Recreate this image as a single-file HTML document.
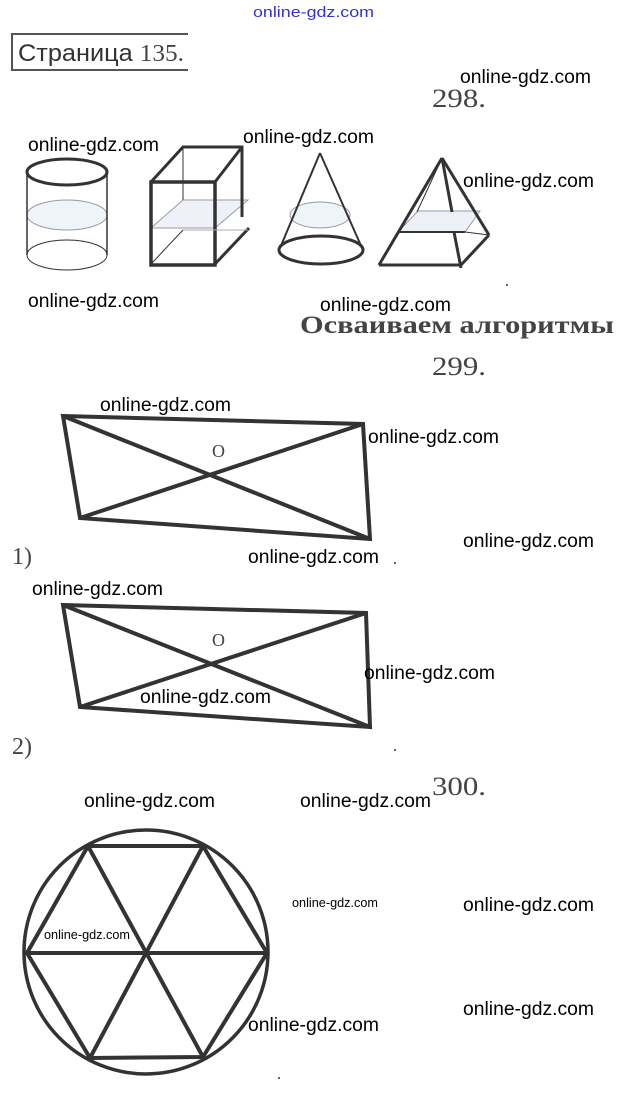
<!DOCTYPE html>
<html><head><meta charset="utf-8"><style>
html,body{margin:0;padding:0;background:#fff;}
svg{display:block;}
.w{font-family:"Liberation Sans",sans-serif;font-size:19px;fill:#000;}
.ws{font-family:"Liberation Sans",sans-serif;font-size:13px;fill:#000;}
.s{font-family:"Liberation Serif",serif;fill:#444;}
</style></head><body>
<svg width="624" height="1094" viewBox="0 0 624 1094" xmlns="http://www.w3.org/2000/svg">
<text x="253" y="17" font-family="Liberation Sans,sans-serif" font-size="15" fill="#3333cc" textLength="121" lengthAdjust="spacingAndGlyphs">online-gdz.com</text>
<path d="M188,34 H12 V70 H188" fill="none" stroke="#555" stroke-width="2"/>
<text x="18" y="61" font-family="Liberation Sans,sans-serif" font-size="24" fill="#333" textLength="166" lengthAdjust="spacingAndGlyphs">Страница <tspan font-family="Liberation Serif,serif" fill="#444">135.</tspan></text>
<text class="s" x="432" y="107" font-size="26" textLength="54" lengthAdjust="spacingAndGlyphs">298.</text>
<text class="s" x="300" y="333" font-size="25" font-weight="bold" textLength="314" lengthAdjust="spacingAndGlyphs">Осваиваем алгоритмы</text>
<text class="s" x="432" y="375" font-size="26" textLength="54" lengthAdjust="spacingAndGlyphs">299.</text>
<text class="s" x="432" y="795" font-size="26" textLength="54" lengthAdjust="spacingAndGlyphs">300.</text>
<text class="s" x="12" y="564" font-size="24">1)</text>
<text class="s" x="12" y="754" font-size="24">2)</text>

<g fill="none" stroke="#333">
<ellipse cx="67" cy="172" rx="40" ry="13" stroke-width="3"/>
<ellipse cx="67" cy="215" rx="40" ry="15" stroke="#99a" stroke-width="1" fill="#eef4f8"/>
<ellipse cx="67" cy="255" rx="40" ry="15" stroke-width="1"/>
<line x1="27" y1="172" x2="27" y2="255" stroke-width="1.5"/>
<line x1="107" y1="172" x2="107" y2="255" stroke-width="1.5"/>
<polygon points="151,228 183,200 248,200 215,228" fill="#eef2f8" stroke="#99a" stroke-width="1"/>
<rect x="151" y="182" width="64" height="83" stroke-width="3.5"/>
<polyline points="151,182 183,147 242,147 242,217" stroke-width="3"/>
<line x1="215" y1="182" x2="242" y2="147" stroke-width="3"/>
<line x1="215" y1="264" x2="249" y2="228" stroke-width="3"/>
<line x1="183" y1="147" x2="183" y2="200" stroke-width="1"/>
<line x1="152" y1="263" x2="183" y2="230" stroke-width="1"/>
<line x1="183" y1="230" x2="248" y2="230" stroke-width="1" stroke="#aab"/>
<ellipse cx="320" cy="215" rx="30" ry="13" stroke="#99a" stroke-width="1" fill="#eef4f8"/>
<line x1="320" y1="153" x2="280" y2="248" stroke-width="2"/>
<line x1="320" y1="153" x2="362" y2="248" stroke-width="2"/>
<ellipse cx="321" cy="250" rx="42" ry="14" stroke-width="3"/>
<polygon points="398,232 418,211 480,211 465,232" fill="#eef2f8" stroke="#99a" stroke-width="1"/>
<line x1="442" y1="158" x2="379" y2="265" stroke-width="3"/>
<line x1="442" y1="158" x2="489" y2="235" stroke-width="3"/>
<line x1="442" y1="158" x2="452" y2="212" stroke-width="3"/>
<line x1="454" y1="232" x2="461" y2="268" stroke-width="3"/>
<line x1="442" y1="158" x2="417" y2="212" stroke-width="1"/>
<line x1="379" y1="265" x2="461" y2="265" stroke-width="3"/>
<line x1="461" y1="265" x2="489" y2="235" stroke-width="3"/>
<line x1="465" y1="232" x2="489" y2="235" stroke-width="1"/>
<line x1="379" y1="265" x2="398" y2="232" stroke-width="1"/>
<line x1="398" y1="232" x2="465" y2="232" stroke-width="2"/>
<g stroke-width="4">
<polygon points="63,416 363,424 370,539 80,518"/>
<line x1="63" y1="416" x2="370" y2="539"/>
<line x1="363" y1="424" x2="80" y2="518"/>
<polygon points="63,605 366,613 370,727 80,707"/>
<line x1="63" y1="605" x2="370" y2="727"/>
<line x1="366" y1="613" x2="80" y2="707"/>
</g>
<circle cx="146" cy="952" r="122" stroke-width="3.5"/>
<g stroke-width="4">
<polygon points="88,846 203,846 267,953 203,1057 90,1058 27,953"/>
<line x1="27" y1="953" x2="267" y2="953"/>
<line x1="88" y1="846" x2="203" y2="1057"/>
<line x1="203" y1="846" x2="90" y2="1058"/>
</g>
</g>
<text class="s" x="212" y="457" font-size="18">O</text>
<text class="s" x="212" y="646" font-size="18">O</text>

<g class="w">
<text x="460" y="83" textLength="131" lengthAdjust="spacingAndGlyphs">online-gdz.com</text>
<text x="28" y="151" textLength="131" lengthAdjust="spacingAndGlyphs">online-gdz.com</text>
<text x="243" y="143" textLength="131" lengthAdjust="spacingAndGlyphs">online-gdz.com</text>
<text x="463" y="187" textLength="131" lengthAdjust="spacingAndGlyphs">online-gdz.com</text>
<text x="28" y="307" textLength="131" lengthAdjust="spacingAndGlyphs">online-gdz.com</text>
<text x="320" y="311" textLength="131" lengthAdjust="spacingAndGlyphs">online-gdz.com</text>
<text x="100" y="411" textLength="131" lengthAdjust="spacingAndGlyphs">online-gdz.com</text>
<text x="368" y="443" textLength="131" lengthAdjust="spacingAndGlyphs">online-gdz.com</text>
<text x="463" y="547" textLength="131" lengthAdjust="spacingAndGlyphs">online-gdz.com</text>
<text x="248" y="563" textLength="131" lengthAdjust="spacingAndGlyphs">online-gdz.com</text>
<text x="32" y="595" textLength="131" lengthAdjust="spacingAndGlyphs">online-gdz.com</text>
<text x="364" y="679" textLength="131" lengthAdjust="spacingAndGlyphs">online-gdz.com</text>
<text x="140" y="703" textLength="131" lengthAdjust="spacingAndGlyphs">online-gdz.com</text>
<text x="84" y="807" textLength="131" lengthAdjust="spacingAndGlyphs">online-gdz.com</text>
<text x="300" y="807" textLength="131" lengthAdjust="spacingAndGlyphs">online-gdz.com</text>
<text x="463" y="911" textLength="131" lengthAdjust="spacingAndGlyphs">online-gdz.com</text>
<text x="463" y="1015" textLength="131" lengthAdjust="spacingAndGlyphs">online-gdz.com</text>
<text x="248" y="1031" textLength="131" lengthAdjust="spacingAndGlyphs">online-gdz.com</text>
</g>
<text class="ws" x="292" y="907" textLength="86" lengthAdjust="spacingAndGlyphs">online-gdz.com</text>
<text class="ws" x="44" y="939" textLength="86" lengthAdjust="spacingAndGlyphs">online-gdz.com</text>
<g fill="#333"><circle cx="507" cy="285" r="1"/><circle cx="395" cy="563" r="1"/><circle cx="395" cy="750" r="1"/><circle cx="279" cy="1078" r="1"/></g>
</svg>
</body></html>
